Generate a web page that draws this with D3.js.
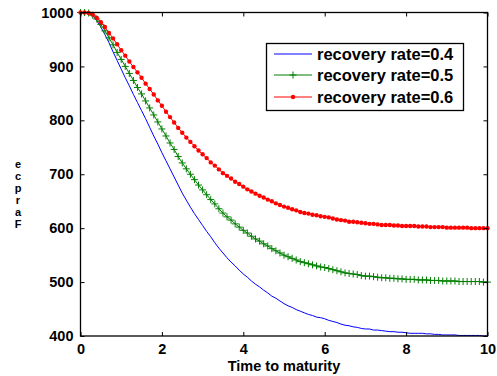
<!DOCTYPE html>
<html><head><meta charset="utf-8">
<script src="https://cdn.jsdelivr.net/npm/d3@7"></script>
<style>body{margin:0;background:#fff}svg{display:block}text{font-family:"Liberation Sans",Arial,sans-serif;font-weight:bold}</style>
</head><body><svg id="c" width="497" height="376"></svg>
<script>
const time = d3.range(0, 101).map(i => i / 10);
const rate04 = [1000,1000,999,994,985,973,959,944,927,911,
 895,879,864,848,833,818,803,787,771,756,
 740,725,710,695,680,665,652,639,627,616,
 605,594,584,573,563,554,545,537,530,522,
 515,509,502,496,491,485,480,474,470,465,
 460,456,453,449,446,443,440,438,435,434,
 432,429,427,425,422,420,419,417,416,414,
 413,413,411,411,410,409,408,408,407,407,
 406,405,405,405,405,404,404,403,403,402,
 402,402,402,401,401,401,401,401,401,400,400];
const rate05 = [1000,1000,999,995,988,978,966,953,940,926,
 913,900,887,874,861,849,836,823,810,797,
 784,771,758,746,733,721,710,700,690,680,
 671,662,653,645,636,628,621,615,608,602,
 596,591,585,580,576,571,567,562,558,554,
 550,547,544,541,538,536,534,532,530,528,
 527,525,523,521,519,517,516,515,514,512,
 511,511,510,509,508,508,507,507,506,506,
 505,505,505,504,504,504,503,503,503,502,
 502,502,502,501,501,501,501,501,501,500,500];
const rate06 = [1000,1000,999,996,990,982,973,962,952,941,
 930,920,909,899,889,879,868,858,848,837,
 827,816,806,796,786,777,768,760,752,744,
 737,730,722,716,709,702,697,692,686,682,
 677,672,668,664,660,657,653,650,646,643,
 640,638,635,633,630,628,627,625,624,622,
 621,620,618,616,615,614,612,612,611,610,
 609,608,608,607,606,606,606,605,605,604,
 604,604,604,603,603,603,602,602,602,602,
 601,601,601,601,601,601,600,600,600,600,600];
const seriesNames = ["recovery rate=0.4","recovery rate=0.5","recovery rate=0.6"];
const seriesColors = ["#0000ff","#007f00","#ff0000"];
const xTicks = [0,2,4,6,8,10];
const yTicks = [400,500,600,700,800,900,1000];
const xLabel = "Time to maturity";
const yLabel = "ecpraF";

const svg = d3.select("#c");
const L = 80.5, R = 487.5, T = 12.5, B = 336;
const x = d3.scaleLinear().domain([0,10]).range([L,R]);
const y = d3.scaleLinear().domain([400,1000]).range([B,T]);

const line = d3.line().x((d,i)=>x(time[i])).y(d=>y(d));

const plot = svg.append("g");
plot.append("path").datum(rate04).attr("d", line).attr("fill","none").attr("stroke",seriesColors[0]).attr("stroke-width",1);
plot.append("path").datum(rate05).attr("d", line).attr("fill","none").attr("stroke",seriesColors[1]).attr("stroke-width",1);
plot.append("g").selectAll("path").data(rate05).join("path")
  .attr("d",(d,i)=>{const cx=x(time[i]),cy=y(d);return `M${cx-3.5},${cy}H${cx+3.5}M${cx},${cy-3.5}V${cy+3.5}`;})
  .attr("stroke",seriesColors[1]).attr("stroke-width",1).attr("fill","none");
plot.append("path").datum(rate06).attr("d", line).attr("fill","none").attr("stroke",seriesColors[2]).attr("stroke-width",1);
plot.append("g").selectAll("circle").data(rate06).join("circle")
  .attr("cx",(d,i)=>x(time[i])).attr("cy",d=>y(d)).attr("r",2.2).attr("fill",seriesColors[2]);

const axG = svg.append("g");
axG.append("rect").attr("x",L).attr("y",T).attr("width",R-L).attr("height",B-T)
  .attr("fill","none").attr("stroke","#000").attr("stroke-width",1.3);
const xAxis = d3.axisBottom(x).tickValues(xTicks).tickSize(-4).tickPadding(8).tickFormat(d3.format("d"));
const gx = svg.append("g").attr("transform",`translate(0,${B})`).call(xAxis);
const gxt = svg.append("g").attr("transform",`translate(0,${T})`).call(d3.axisTop(x).tickValues(xTicks).tickSize(-4).tickFormat(""));
const yAxis = d3.axisLeft(y).tickValues(yTicks).tickSize(-4).tickPadding(7).tickFormat(d3.format("d"));
const gy = svg.append("g").attr("transform",`translate(${L},0)`).call(yAxis);
const gyr = svg.append("g").attr("transform",`translate(${R},0)`).call(d3.axisRight(y).tickValues(yTicks).tickSize(-4).tickFormat(""));
[gx,gxt,gy,gyr].forEach(g=>{g.select(".domain").remove();g.selectAll("line").attr("stroke","#000");});
[gx,gy].forEach(g=>g.selectAll("text").attr("font-size",14.5).attr("font-family","Liberation Sans, Arial").attr("font-weight","bold").attr("fill","#000"));

svg.append("text").attr("x",(L+R)/2).attr("y",371).attr("text-anchor","middle").attr("font-size",14.5).text(xLabel);
svg.append("text").attr("x",18).attr("y",158)
  .style("writing-mode","vertical-rl").style("text-orientation","upright")
  .attr("font-size",11).attr("letter-spacing",0).text(yLabel);

const lg = svg.append("g");
lg.append("rect").attr("x",266.5).attr("y",43.5).attr("width",197).attr("height",67).attr("fill","#fff").attr("stroke","#000").attr("stroke-width",1.3);
const ly = [54,75,97];
seriesNames.forEach((n,i)=>{
  lg.append("line").attr("x1",274).attr("x2",312).attr("y1",ly[i]).attr("y2",ly[i]).attr("stroke",seriesColors[i]).attr("stroke-width",1);
  if(i===1) lg.append("path").attr("d",`M289.5,${ly[i]}H296.5M293,${ly[i]-3.5}V${ly[i]+3.5}`).attr("stroke",seriesColors[i]);
  if(i===2) lg.append("circle").attr("cx",293).attr("cy",ly[i]).attr("r",2.2).attr("fill",seriesColors[i]);
  lg.append("text").attr("x",317).attr("y",ly[i]+6).attr("font-size",16.5).text(n);
});
</script></body></html>
